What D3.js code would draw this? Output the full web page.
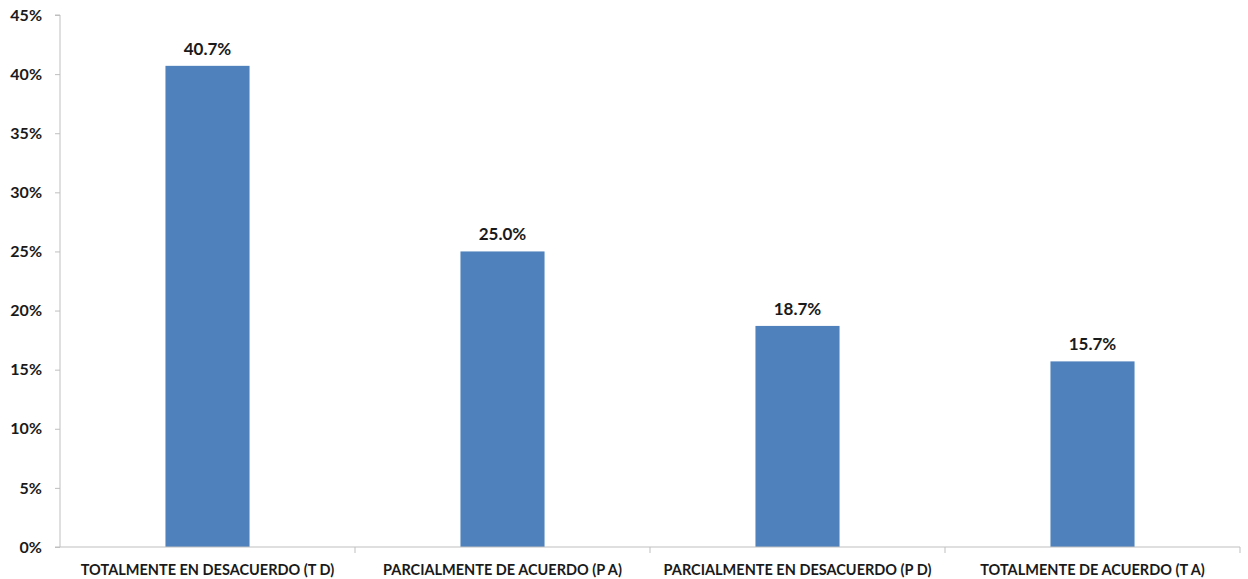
<!DOCTYPE html>
<html>
<head>
<meta charset="utf-8">
<script src="https://cdn.jsdelivr.net/npm/d3@7"></script>
<style>
  html, body { margin: 0; padding: 0; background: #ffffff; }
  svg { display: block; }
  text { font-family: Lato, "Open Sans", sans-serif; font-weight: 700; fill: #1a1a1a; }
</style>
</head>
<body>
<svg id="chart" width="1248" height="579"></svg>
<script>
// Survey answers and their shares (percent)
const categories = [
  "TOTALMENTE EN DESACUERDO (T D)",
  "PARCIALMENTE DE ACUERDO (P A)",
  "PARCIALMENTE EN DESACUERDO (P D)",
  "TOTALMENTE DE ACUERDO (T A)"
];
const values = [40.7, 25.0, 18.7, 15.7];
const yTicks = [0, 5, 10, 15, 20, 25, 30, 35, 40, 45];

const svg = d3.select("#chart");
const margin = { left: 60, right: 8, top: 15, bottom: 32 };
const width = 1248, height = 579;
const axisColor = "#bfbfbf";

const x = d3.scaleBand()
  .domain(categories)
  .range([margin.left, width - margin.right])
  .padding(0);

const y = d3.scaleLinear()
  .domain([0, 45])
  .range([height - margin.bottom, margin.top]);

const barFrac = 0.285;
const barW = x.bandwidth() * barFrac;

// Bars
svg.append("g")
  .selectAll("rect")
  .data(values)
  .join("rect")
  .attr("x", (d, i) => x(categories[i]) + (x.bandwidth() - barW) / 2)
  .attr("y", d => y(d))
  .attr("width", barW)
  .attr("height", d => y(0) - y(d))
  .attr("fill", "#4f81bd");

// Value labels
svg.append("g")
  .selectAll("text")
  .data(values)
  .join("text")
  .attr("x", (d, i) => x(categories[i]) + x.bandwidth() / 2)
  .attr("y", d => y(d) - 11)
  .attr("text-anchor", "middle")
  .attr("font-size", 17)
  .text(d => d.toFixed(1) + "%");

// Y axis
const yAxis = svg.append("g")
  .attr("transform", `translate(${margin.left},0)`)
  .call(d3.axisLeft(y).tickValues(yTicks).tickSize(5).tickPadding(13).tickFormat(d => d + "%"));
yAxis.select(".domain").attr("stroke", axisColor).attr("d", `M-5,${y(45)}H0V${y(0)}`);
yAxis.selectAll(".tick line").attr("stroke", axisColor);
yAxis.selectAll(".tick text")
  .attr("font-size", 16)
  .attr("font-family", "Lato, sans-serif")
  .attr("font-weight", 700)
  .attr("fill", "#1a1a1a");

// X axis with dividers between categories
const xAxisG = svg.append("g")
  .attr("transform", `translate(0,${y(0)})`);
xAxisG.append("line")
  .attr("x1", margin.left - 5).attr("x2", width - margin.right)
  .attr("y1", 0).attr("y2", 0)
  .attr("stroke", axisColor);
const bounds = categories.map(c => x(c)).concat([x(categories[categories.length - 1]) + x.bandwidth()]);
xAxisG.selectAll("line.div")
  .data(bounds.slice(1))
  .join("line")
  .attr("class", "div")
  .attr("x1", d => d).attr("x2", d => d)
  .attr("y1", 0).attr("y2", 6)
  .attr("stroke", axisColor);
xAxisG.selectAll("text")
  .data(categories)
  .join("text")
  .attr("x", d => x(d) + x.bandwidth() / 2)
  .attr("y", 28)
  .attr("text-anchor", "middle")
  .attr("font-size", 14.5)
  .text(d => d);
</script>
</body>
</html>
